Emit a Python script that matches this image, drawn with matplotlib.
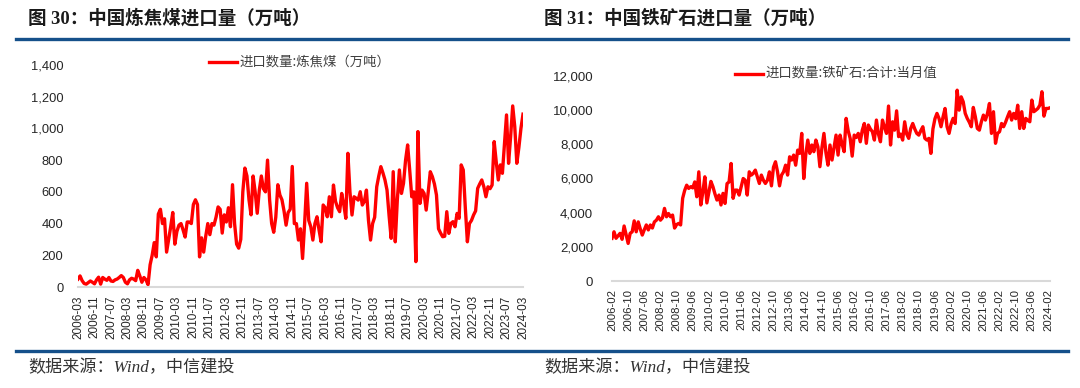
import numpy as np
import pandas as pd
import matplotlib
matplotlib.use('Agg')
import matplotlib.pyplot as plt
from matplotlib.lines import Line2D

plt.rcParams['font.family'] = ['Liberation Sans', 'Noto Sans CJK SC', 'DejaVu Sans']

# ---- data -------------------------------------------------------------------
# coking coal imports, monthly, 2006-03 .. 2024-03 (10k tonnes)
coal_start = '2006-03'
coal = [
    50, 70, 40, 22, 18, 28, 38, 30, 20, 45, 62, 18,
    60, 50, 42, 60, 38, 35, 45, 50, 60, 72, 60, 30,
    20, 45, 55, 50, 40, 105, 70, 30, 60, 45, 15, 140,
    200, 280, 190, 460, 490, 400, 430, 220, 300, 380, 470, 270,
    350, 390, 400, 360, 315, 410, 410, 400, 520, 550, 520, 190,
    310, 220, 320, 400, 330, 400, 390, 440, 505, 490, 340, 455,
    410, 500, 380, 645, 400, 270, 245, 300, 600, 750, 700, 550,
    455, 700, 600, 465, 610, 700, 620, 600, 800, 550, 400, 345,
    440, 645, 580, 550, 480, 390, 470, 490, 760, 400, 400, 296,
    367, 180, 400, 654, 420, 380, 296, 400, 443, 360, 285, 517,
    500, 443, 569, 443, 643, 540, 500, 475, 590, 520, 433, 843,
    600, 454, 569, 560, 548, 601, 517, 540, 611, 420, 296, 400,
    440, 632, 700, 759, 720, 675, 611, 450, 307, 727, 285, 550,
    738, 590, 654, 800, 896, 738, 569, 600, 160, 980, 527, 611,
    590, 485, 600, 727, 696, 650, 580, 367, 340, 317, 320, 475,
    338, 401, 412, 380, 464, 433, 770, 738, 500, 285, 400, 420,
    454, 480, 622, 650, 675, 632, 569, 632, 620, 643, 917, 790,
    675, 770, 717, 900, 1085, 780, 950, 1142, 1011, 780, 880, 1000,
    1090,
]

# iron ore imports, monthly, 2006-02 .. 2024-03 (10k tonnes)
ore_start = '2006-02'
ore = [
    2500, 2880, 2500, 2650, 2790, 2440, 3220, 2700, 2200, 2790, 2880, 3520,
    2880, 3460, 3050, 2690, 3000, 3280, 2990, 3280, 3100, 3460, 3560, 3760,
    3560, 3700, 4250, 3760, 3950, 3760, 3860, 3100, 3300, 3370, 3280, 4840,
    5300, 5610, 5420, 5520, 5450, 5800, 4930, 6390, 4450, 5200, 6100, 4570,
    5200, 5830, 5520, 5100, 4740, 5030, 4450, 5130, 4540, 5700, 5800, 6880,
    4840, 5320, 5320, 5030, 5520, 6000, 5900, 5030, 6390, 6200, 6300, 6490,
    6100, 5710, 6200, 5900, 5710, 5900, 6390, 5570, 6660, 6980, 6400, 5570,
    6200, 6390, 6780, 6200, 7270, 7080, 7370, 6780, 7660, 7470, 8640, 6000,
    7400, 8250, 7470, 7960, 7570, 8250, 7860, 6690, 7800, 8640, 7500, 6780,
    7960, 7080, 7800, 8540, 7370, 8540, 8000, 7570, 9520, 8800, 8350, 7310,
    8540, 8400, 8640, 8150, 8830, 9220, 8060, 9130, 8900, 8740, 8250, 9420,
    8600, 8150, 9420, 9000, 8640, 10240, 7960, 9320, 8830, 9960, 8450, 8600,
    8250, 9320, 8600, 8350, 8930, 9220, 8900, 8640, 8540, 8800, 9030, 8350,
    8250, 8350, 7470, 8900, 9500, 9810, 9520, 9030, 9600, 10100, 9030, 8640,
    9200, 9520, 9220, 11170, 10000, 10780, 10490, 9810, 9520, 9300, 9030, 10160,
    9620, 8930, 8830, 9320, 9710, 9420, 9800, 10390, 8640, 9910, 8060, 8640,
    8740, 9220, 9030, 9300, 9620, 9910, 9420, 9810, 9500, 10290, 8930, 9910,
    8930, 9520, 9400, 9320, 10590, 9910, 10000, 10100, 10300, 11080, 9650, 10100,
    10100, 10140,
]

coal_months = pd.period_range(coal_start, periods=len(coal), freq='M').strftime('%Y-%m')
ore_months = pd.period_range(ore_start, periods=len(ore), freq='M').strftime('%Y-%m')

title_l = '图 30：中国炼焦煤进口量（万吨）'
title_r = '图 31：中国铁矿石进口量（万吨）'
legend_l = '进口数量:炼焦煤（万吨）'
legend_r = '进口数量:铁矿石:合计:当月值'
source = '数据来源：Wind，中信建投'

RED = '#ff0000'
BLUE = '#15508a'
W, H = 1080, 388

fig = plt.figure(figsize=(W / 100, H / 100), dpi=100)


def px_axes(x0, x1, ytop, ybot):
    return fig.add_axes([x0 / W, 1 - ybot / H, (x1 - x0) / W, (ybot - ytop) / H])


def style(ax, labels, ymax, ystep, xfs, yfs, xpad, ypad):
    n = len(labels)
    ticks = list(range(0, n, 8))
    ax.set_xticks(ticks)
    ax.set_xticklabels([labels[i] for i in ticks], rotation=90, fontsize=xfs, color='#262626')
    yt = np.arange(0, ymax + 1, ystep)
    ax.set_yticks(yt)
    ax.set_yticklabels(['{:,}'.format(int(v)) for v in yt], fontsize=yfs, color='#262626')
    ax.tick_params(length=0)
    ax.tick_params(axis='x', pad=xpad)
    ax.tick_params(axis='y', pad=ypad)
    for s in ['top', 'right', 'left']:
        ax.spines[s].set_visible(False)
    ax.spines['bottom'].set_color('#d9d9d9')
    ax.spines['bottom'].set_linewidth(1.5)
    ax.set_ylim(0, ymax)


# left chart
ax1 = px_axes(78, 523, 65, 287)
ax1.plot(range(len(coal)), coal, color=RED, lw=2.4, solid_joinstyle='round')
ax1.set_xlim(0, len(coal) - 1)
style(ax1, coal_months, 1400, 200, 8.5, 9.3, 6.0, 10.5)

# right chart
ax2 = px_axes(612, 1050, 76, 281)
ax2.plot(range(len(ore)), ore, color=RED, lw=2.4, solid_joinstyle='round')
ax2.set_xlim(0, len(ore) - 1)
style(ax2, ore_months, 12000, 2000, 8.2, 9.5, 5.5, 13.5)

# legends
for x0, y0, txt in [(209, 62, legend_l), (735, 74, legend_r)]:
    fig.add_artist(Line2D([x0 / W, (x0 + 28) / W], [1 - y0 / H] * 2, color=RED, lw=2.4))
    fig.text((x0 + 31) / W, 1 - y0 / H, txt, fontsize=9.6, color='#404040',
             va='center', ha='left', family=['Noto Sans CJK SC', 'DejaVu Sans'])

# titles, rules, source
for x0, txt in [(28, title_l), (544, title_r)]:
    fig.text(x0 / W, 1 - 18 / H, txt, fontsize=13.3, fontweight='bold', color='#1a1a1a',
             va='center', ha='left', family=['Liberation Serif', 'Noto Sans CJK SC', 'DejaVu Sans'])
    fig.text(x0 / W, 1 - 368 / H, source, fontsize=12.3, color='#333333', style='italic',
             va='center', ha='left', family=['Liberation Serif', 'Noto Sans CJK SC', 'DejaVu Sans'])

for y0 in [39, 351]:
    fig.add_artist(Line2D([16 / W, 1068 / W], [1 - y0 / H] * 2, color=BLUE, lw=2.4))

fig.savefig('out.png', dpi=100)
